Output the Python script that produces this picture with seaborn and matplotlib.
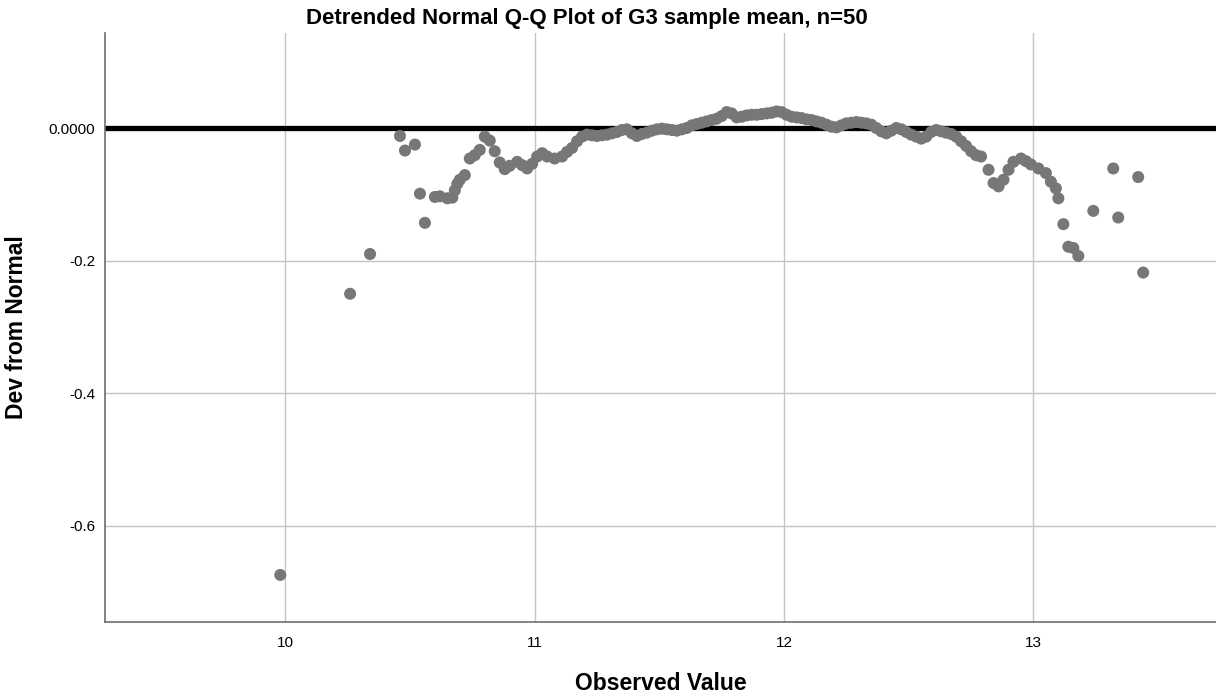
import numpy as np
import pandas as pd
import seaborn as sns
import matplotlib
matplotlib.use('Agg')
import matplotlib.pyplot as plt

observed = [
    9.98, 10.26, 10.34, 10.46, 10.48, 10.52, 10.54, 10.56, 10.60, 10.62,
    10.65, 10.67, 10.68, 10.69, 10.70, 10.72, 10.74, 10.76, 10.78, 10.80,
    10.82, 10.84, 10.86, 10.88, 10.90, 10.93, 10.95, 10.97, 10.99, 11.01,
    11.03, 11.05, 11.08, 11.11,
    11.13, 11.15, 11.17, 11.19, 11.21, 11.23, 11.25, 11.27, 11.29, 11.31,
    11.33, 11.35, 11.37, 11.39, 11.41, 11.43, 11.45, 11.47, 11.49, 11.51,
    11.53, 11.55, 11.57, 11.59, 11.61, 11.63, 11.65, 11.67, 11.69, 11.71,
    11.73, 11.75, 11.77, 11.79, 11.81, 11.83, 11.85, 11.87, 11.89, 11.91,
    11.93, 11.95, 11.97, 11.99, 12.01, 12.03, 12.05, 12.07, 12.09, 12.11,
    12.13, 12.15, 12.17, 12.19, 12.21, 12.23, 12.25, 12.27, 12.29, 12.31,
    12.33, 12.35, 12.37, 12.39, 12.41, 12.43, 12.45, 12.47, 12.49, 12.51,
    12.53, 12.55, 12.57, 12.59, 12.61, 12.63, 12.65, 12.67, 12.69, 12.71,
    12.73, 12.75, 12.77, 12.79,
    12.82, 12.84, 12.86, 12.88, 12.90, 12.92, 12.95, 12.97, 12.99, 13.02,
    13.05, 13.07, 13.09, 13.10, 13.12, 13.14, 13.16, 13.18, 13.24, 13.32,
    13.34, 13.42, 13.44,
]
deviation = [
    -0.674, -0.250, -0.190, -0.012, -0.034, -0.025, -0.099, -0.143, -0.104, -0.103,
    -0.106, -0.105, -0.094, -0.084, -0.078, -0.071, -0.046, -0.041, -0.033, -0.013,
    -0.019, -0.035, -0.052, -0.062, -0.057, -0.051, -0.056, -0.061, -0.054, -0.043,
    -0.038, -0.043, -0.046, -0.043,
    -0.036, -0.030, -0.020, -0.013, -0.010, -0.011, -0.012, -0.011, -0.010, -0.008,
    -0.006, -0.003, -0.002, -0.008, -0.012, -0.009, -0.007, -0.004, -0.002, -0.001,
    -0.002, -0.003, -0.004, -0.002, 0.000, 0.004, 0.006, 0.008, 0.010, 0.012,
    0.014, 0.018, 0.024, 0.022, 0.016, 0.017, 0.019, 0.020, 0.020, 0.021,
    0.022, 0.023, 0.025, 0.024, 0.020, 0.017, 0.016, 0.015, 0.013, 0.012,
    0.010, 0.008, 0.005, 0.002, 0.001, 0.004, 0.007, 0.008, 0.009, 0.008,
    0.007, 0.005, 0.000, -0.005, -0.008, -0.004, 0.000, -0.002, -0.006, -0.010,
    -0.013, -0.016, -0.013, -0.006, -0.003, -0.005, -0.007, -0.009, -0.013, -0.020,
    -0.027, -0.035, -0.041, -0.043,
    -0.063, -0.083, -0.088, -0.078, -0.063, -0.051, -0.046, -0.050, -0.055, -0.061,
    -0.068, -0.081, -0.091, -0.106, -0.145, -0.179, -0.181, -0.193, -0.125, -0.061,
    -0.135, -0.074, -0.218,
]

x_ticks = [10, 11, 12, 13]
y_ticks = [0.0, -0.2, -0.4, -0.6]
y_tick_labels = ["0.0000", "-0.2", "-0.4", "-0.6"]

df = pd.DataFrame({"Observed Value": observed, "Dev from Normal": deviation})

sns.set_theme(style="white")
plt.rcParams['font.family'] = ['Liberation Sans', 'DejaVu Sans']

fig = plt.figure(figsize=(12.16, 6.96), dpi=100)
ax = fig.add_axes([0.0863, 0.1063, 0.9137, 0.8463])

ax.set_xlim(9.277, 13.732)
ax.set_ylim(-0.745, 0.1433)

ax.set_xticks(x_ticks)
ax.set_yticks(y_ticks)
ax.set_yticklabels(y_tick_labels)
ax.grid(True, color="#c4c4c4", linewidth=1.0)
ax.set_axisbelow(True)

ax.axhline(0, color="black", linewidth=3.8, zorder=2)

sns.scatterplot(data=df, x="Observed Value", y="Dev from Normal", ax=ax,
                color="#777777", s=75, edgecolor="none", zorder=3)

for side in ["top", "right"]:
    ax.spines[side].set_visible(False)
for side in ["left", "bottom"]:
    ax.spines[side].set_color("#6e6e6e")
    ax.spines[side].set_linewidth(1.2)

ax.tick_params(axis="both", length=0, labelsize=11, colors="black")
ax.tick_params(axis="x", pad=10)
ax.tick_params(axis="y", pad=7)
ax.set_xlabel("Observed Value", fontsize=16.5, fontweight="bold", va="center", color="black")
ax.set_ylabel("Dev from Normal", fontsize=16.5, fontweight="bold", va="center", color="black")
ax.xaxis.set_label_coords(0.5, -0.105)
ax.yaxis.set_label_coords(-0.080, 0.5)

fig.text(0.483, 0.973, "Detrended Normal Q-Q Plot of G3 sample mean, n=50",
         ha="center", va="center", fontsize=16, fontweight="bold", color="black")

fig.savefig("out.png", dpi=100)
